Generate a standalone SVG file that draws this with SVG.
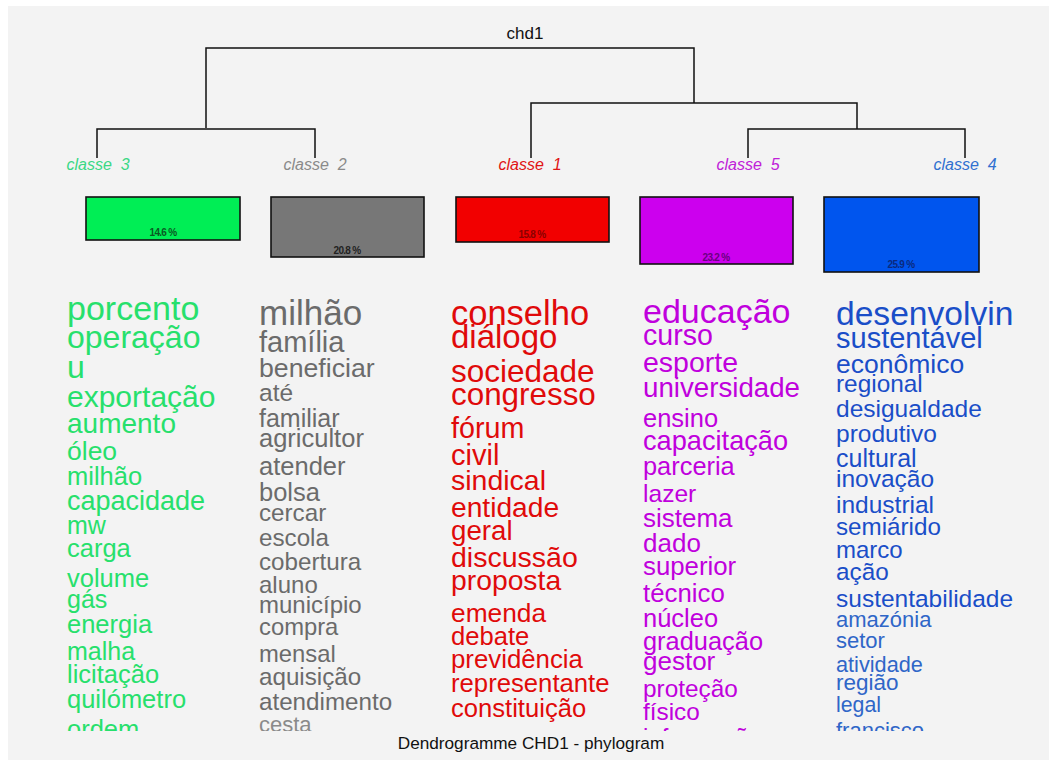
<svg xmlns="http://www.w3.org/2000/svg" width="1049" height="760" viewBox="0 0 1049 760">
<defs>
<style>
text{font-family:"Liberation Sans",Arial,sans-serif}
.lbl{font-size:16px;font-style:italic;text-anchor:middle}
.pct{font-size:10px;font-weight:bold;text-anchor:middle;letter-spacing:-0.7px}
.box{stroke:#111;stroke-width:1.6}
.ln{stroke:#111;stroke-width:1.5;fill:none}
.g3{fill:#27e06c}.g2{fill:#6b6b6b}.g1{fill:#e00a0a}.g5{fill:#c000dd}.g4{fill:#1a4ec8}.g4b{fill:#2f66c8}
</style>
<clipPath id="cw"><rect x="0" y="280" width="1049" height="451"/></clipPath>
</defs>
<rect x="0" y="0" width="1049" height="760" fill="#ffffff"/>
<rect x="8" y="6" width="1041" height="754" fill="#f3f3f3"/>

<g id="connectors" class="ln">
<path d="M206,128 V48 H694 V103"/>
<path d="M97,158 V129 H315 V158"/>
<path d="M531,158 V103 H857 V129"/>
<path d="M748,158 V129 H965 V158"/>
</g>

<g id="root"><text x="525" y="39" font-size="17" text-anchor="middle" fill="#111">chd1</text></g>

<g id="classe3">
<text class="lbl" x="98" y="170" fill="#3ad884" xml:space="preserve">classe  3</text>
<rect class="box" x="86" y="197" width="154" height="43" fill="#00ee55"/>
<text class="pct" x="163" y="236" fill="#0a5a22">14.6 %</text>
<g clip-path="url(#cw)" class="g3">
<text x="67" y="320" font-size="34">porcento</text>
<text x="67" y="348" font-size="32">operação</text>
<text x="67" y="378" font-size="32">u</text>
<text x="67" y="407" font-size="30">exportação</text>
<text x="67" y="433" font-size="28">aumento</text>
<text x="67" y="460" font-size="26.5">óleo</text>
<text x="67" y="485" font-size="25.5">milhão</text>
<text x="67" y="510" font-size="27">capacidade</text>
<text x="67" y="534" font-size="25">mw</text>
<text x="67" y="557" font-size="25.5">carga</text>
<text x="67" y="587" font-size="25.5">volume</text>
<text x="67" y="608" font-size="25">gás</text>
<text x="67" y="633" font-size="25.5">energia</text>
<text x="67" y="660" font-size="25">malha</text>
<text x="67" y="683" font-size="25.5">licitação</text>
<text x="67" y="708" font-size="25.5">quilómetro</text>
<text x="67" y="738" font-size="25.5">ordem</text>
</g>
</g>

<g id="classe2">
<text class="lbl" x="315" y="170" fill="#8a8a8a" xml:space="preserve">classe  2</text>
<rect class="box" x="271" y="197" width="153" height="60" fill="#777777"/>
<text class="pct" x="347" y="254" fill="#222">20.8 %</text>
<g clip-path="url(#cw)" class="g2">
<text x="259" y="325" font-size="35">milhão</text>
<text x="259" y="352" font-size="29">família</text>
<text x="259" y="377" font-size="26.7">beneficiar</text>
<text x="259" y="401" font-size="24.5">até</text>
<text x="259" y="427" font-size="25">familiar</text>
<text x="259" y="447" font-size="25.5">agricultor</text>
<text x="259" y="475" font-size="25.5">atender</text>
<text x="259" y="501" font-size="25.5">bolsa</text>
<text x="259" y="521" font-size="24.2">cercar</text>
<text x="259" y="546" font-size="24.2">escola</text>
<text x="259" y="570" font-size="24.2">cobertura</text>
<text x="259" y="593" font-size="24">aluno</text>
<text x="259" y="613" font-size="24">município</text>
<text x="259" y="635" font-size="23.8">compra</text>
<text x="259" y="662" font-size="23.8">mensal</text>
<text x="259" y="685" font-size="24.2">aquisição</text>
<text x="259" y="710" font-size="24.2">atendimento</text>
<text x="259" y="732" font-size="22" fill="#8a8a8a">cesta</text>
</g>
</g>

<g id="classe1">
<text class="lbl" x="530" y="170" fill="#e01414" xml:space="preserve">classe  1</text>
<rect class="box" x="456" y="197" width="153" height="45" fill="#f20000"/>
<text class="pct" x="532" y="238" fill="#8a0000">15.8 %</text>
<g clip-path="url(#cw)" class="g1">
<text x="451" y="325" font-size="34.5">conselho</text>
<text x="451" y="348" font-size="33">diálogo</text>
<text x="451" y="382" font-size="31.5">sociedade</text>
<text x="451" y="405" font-size="31.4">congresso</text>
<text x="451" y="438" font-size="28.7">fórum</text>
<text x="451" y="465" font-size="29">civil</text>
<text x="451" y="490" font-size="28.5">sindical</text>
<text x="451" y="517" font-size="28.2">entidade</text>
<text x="451" y="540" font-size="27.7">geral</text>
<text x="451" y="567" font-size="28.5">discussão</text>
<text x="451" y="590" font-size="28.3">proposta</text>
<text x="451" y="622" font-size="26.3">emenda</text>
<text x="451" y="645" font-size="25.6">debate</text>
<text x="451" y="668" font-size="25.8">previdência</text>
<text x="451" y="692" font-size="25.7">representante</text>
<text x="451" y="717" font-size="25.6">constituição</text>
</g>
</g>

<g id="classe5">
<text class="lbl" x="748" y="170" fill="#c020d8" xml:space="preserve">classe  5</text>
<rect class="box" x="640" y="197" width="153" height="67" fill="#cc00ee"/>
<text class="pct" x="716" y="261" fill="#6a0080">23.2 %</text>
<g clip-path="url(#cw)" class="g5">
<text x="643" y="323" font-size="34">educação</text>
<text x="643" y="345" font-size="28.6">curso</text>
<text x="643" y="372" font-size="28.5">esporte</text>
<text x="643" y="397" font-size="27.7">universidade</text>
<text x="643" y="427" font-size="25.5">ensino</text>
<text x="643" y="450" font-size="27.2">capacitação</text>
<text x="643" y="475" font-size="25.4">parceria</text>
<text x="643" y="502" font-size="24.6">lazer</text>
<text x="643" y="527" font-size="26">sistema</text>
<text x="643" y="552" font-size="26">dado</text>
<text x="643" y="575" font-size="25.8">superior</text>
<text x="643" y="602" font-size="25.8">técnico</text>
<text x="643" y="627" font-size="25.5">núcleo</text>
<text x="643" y="650" font-size="25.4">graduação</text>
<text x="643" y="670" font-size="26">gestor</text>
<text x="643" y="697" font-size="24.4">proteção</text>
<text x="643" y="720" font-size="24.3">físico</text>
<text x="643" y="745" font-size="24">informação</text>
</g>
</g>

<g id="classe4">
<text class="lbl" x="965" y="170" fill="#3070d0" xml:space="preserve">classe  4</text>
<rect class="box" x="824" y="197" width="155" height="75" fill="#0055ee"/>
<text class="pct" x="901" y="268" fill="#0a2a80">25.9 %</text>
<g clip-path="url(#cw)" class="g4">
<text x="836" y="325" font-size="33.6">desenvolvin</text>
<text x="836" y="348" font-size="29">sustentável</text>
<text x="836" y="373" font-size="26.5">econômico</text>
<text x="836" y="392" font-size="24.4">regional</text>
<text x="836" y="417" font-size="24.5">desigualdade</text>
<text x="836" y="442" font-size="24.5">produtivo</text>
<text x="836" y="467" font-size="25">cultural</text>
<text x="836" y="487" font-size="24.5">inovação</text>
<text x="836" y="513" font-size="24.5">industrial</text>
<text x="836" y="535" font-size="24.2">semiárido</text>
<text x="836" y="558" font-size="24">marco</text>
<text x="836" y="580" font-size="24.3">ação</text>
<text x="836" y="607" font-size="24.5">sustentabilidade</text>
<text x="836" y="627" font-size="22" class="g4b">amazónia</text>
<text x="836" y="648" font-size="22" class="g4b">setor</text>
<text x="836" y="672" font-size="21.7" class="g4b">atividade</text>
<text x="836" y="690" font-size="22.5" class="g4b">região</text>
<text x="836" y="712" font-size="21.3" class="g4b">legal</text>
<text x="836" y="738" font-size="22" class="g4b">francisco</text>
</g>
</g>

<g id="title"><text x="531" y="749" font-size="17.2" text-anchor="middle" fill="#111">Dendrogramme CHD1 - phylogram</text></g>
</svg>
